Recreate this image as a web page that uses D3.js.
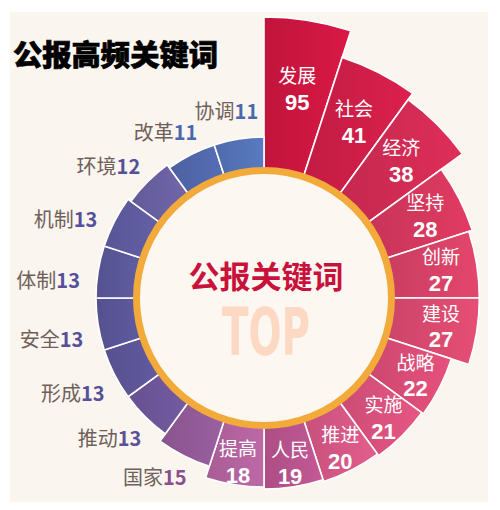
<!DOCTYPE html>
<html>
<head>
<meta charset="utf-8">
<script src="https://cdn.jsdelivr.net/npm/d3@7/dist/d3.min.js"></script>
<style>
  html, body { margin: 0; padding: 0; background: #ffffff; }
  svg { display: block; }
</style>
</head>
<body>
<svg id="chart" width="500" height="510"></svg>
<script>
// ---------- data ----------
const categories = ["发展","社会","经济","坚持","创新","建设","战略","实施","推进","人民","提高","国家","推动","形成","安全","体制","机制","环境","改革","协调"];
const values = [95,41,38,28,27,27,22,21,20,19,18,15,13,13,13,13,13,12,11,11];
const barColors = ["#c8163f","#c91d46","#cc2a51","#cf365b","#d14064","#d3476b","#d34a72","#d34f79","#d05581","#b3518a","#ae609a","#8e5893","#6b5496","#5b5394","#595494","#595696","#5c599b","#675e9e","#5065a7","#5170b1"];
const outerValueColors = ["#8a4f8e","#5e4f96","#56509a","#56509a","#56509a","#56509a","#56509a","#4b68ad","#4b68ad","#4b68ad"];
const insideCount = 11;
const titleText = "公报高频关键词";
const centerTitle = "公报关键词";
const centerSub = "TOP";

// ---------- layout ----------
const svg = d3.select("#chart");
const cx = 264, cy = 298;
const FONT = "'Noto Sans CJK SC','Noto Sans',sans-serif";
const NUMFONT = "'Liberation Sans','Arial',sans-serif";

svg.append("rect").attr("x", 10).attr("y", 12).attr("width", 478).attr("height", 490).attr("fill", "#faf5ee");

const defs = svg.append("defs");

const angle = d3.scaleBand().domain(categories).range([0, 2 * Math.PI]).padding(0);
const radius = d3.scaleLinear()
  .domain([11, 13, 15, 18, 22, 28, 41, 95])
  .range([161, 168, 177, 189, 197, 219, 253, 281]);

const innerR = 122, ringR = 127.5;
const data = categories.map((c, i) => ({ name: c, value: values[i], color: barColors[i], i }));

// gradients (lighter towards the right of each bar)
data.forEach(d => {
  const gr = defs.append("linearGradient").attr("id", "g" + d.i)
    .attr("x1", 0).attr("y1", 0).attr("x2", 1).attr("y2", 0);
  gr.append("stop").attr("offset", "0%").attr("stop-color", d3.color(d.color).darker(0.12));
  gr.append("stop").attr("offset", "100%").attr("stop-color", d3.color(d.color).brighter(0.25));
});

const arc = d3.arc()
  .innerRadius(innerR)
  .outerRadius(d => radius(d.value))
  .startAngle(d => angle(d.name))
  .endAngle(d => angle(d.name) + angle.bandwidth());

const g = svg.append("g").attr("transform", `translate(${cx},${cy})`);

g.selectAll("path.bar").data(data).enter().append("path")
  .attr("class", "bar")
  .attr("d", arc)
  .attr("fill", d => `url(#g${d.i})`)
  .attr("stroke", "#ffffff")
  .attr("stroke-width", 1.6)
  .attr("stroke-linejoin", "miter");

// ring
g.append("circle").attr("r", ringR).attr("fill", "#fcf8f1").attr("stroke", "#f2aa3a").attr("stroke-width", 7);

// inside labels (name over value)
data.filter(d => d.i < insideCount).forEach(d => {
  const mid = angle(d.name) + angle.bandwidth() / 2;
  const r = (ringR + 3.5 + radius(d.value)) / 2 + 6;
  const x = r * Math.sin(mid), y = -r * Math.cos(mid);
  g.append("text")
    .attr("x", x).attr("y", y - 5.5)
    .attr("text-anchor", "middle")
    .attr("font-family", FONT).attr("font-size", 19).attr("fill", "#ffffff")
    .text(d.name);
  g.append("text")
    .attr("x", x).attr("y", y + 21)
    .attr("text-anchor", "middle")
    .attr("font-family", NUMFONT).attr("font-size", 22).attr("font-weight", "bold").attr("fill", "#ffffff")
    .text(d.value);
});

// outside labels
data.filter(d => d.i >= insideCount).forEach((d, k) => {
  const a0 = angle(d.name), a1 = a0 + angle.bandwidth();
  const mid = (a0 + a1) / 2;
  const c = Math.cos(mid);
  const offDeg = 1.5 + 11 * (c > 0 ? 1 - c * c : 1);
  const th = a1 - offDeg * Math.PI / 180;
  const r = radius(d.value) + 17 + 12 * Math.pow(Math.max(0, c), 16);
  const t = g.append("text")
    .attr("x", r * Math.sin(th)).attr("y", -r * Math.cos(th))
    .attr("text-anchor", "end").attr("dominant-baseline", "central")
    .attr("font-family", FONT).attr("font-size", 20);
  t.append("tspan").attr("fill", "#6f605a").text(d.name);
  t.append("tspan").attr("fill", outerValueColors[k]).attr("font-weight", "bold").text(d.value);
});

// center texts
g.append("text").attr("x", 2).attr("y", -24)
  .attr("text-anchor", "middle").attr("dominant-baseline", "central")
  .attr("font-family", FONT).attr("font-size", 31).attr("font-weight", "bold")
  .attr("fill", "#c8123c").text(centerTitle);
g.append("text").attr("x", 2).attr("y", 57)
  .attr("text-anchor", "middle")
  .attr("font-family", "'Liberation Sans Narrow','DejaVu Sans Condensed','Liberation Sans',sans-serif")
  .attr("font-size", 66).attr("font-weight", "bold")
  .attr("textLength", 88).attr("lengthAdjust", "spacingAndGlyphs")
  .attr("fill", "#fdd8c2").text(centerSub);

// title
svg.append("text").attr("x", 13).attr("y", 52.5)
  .attr("dominant-baseline", "central")
  .attr("font-family", FONT).attr("font-size", 29).attr("font-weight", "900")
  .attr("fill", "#000000").attr("stroke", "#000000").attr("stroke-width", 0.7)
  .attr("textLength", 205).attr("lengthAdjust", "spacingAndGlyphs")
  .text(titleText);
</script>
</body>
</html>
